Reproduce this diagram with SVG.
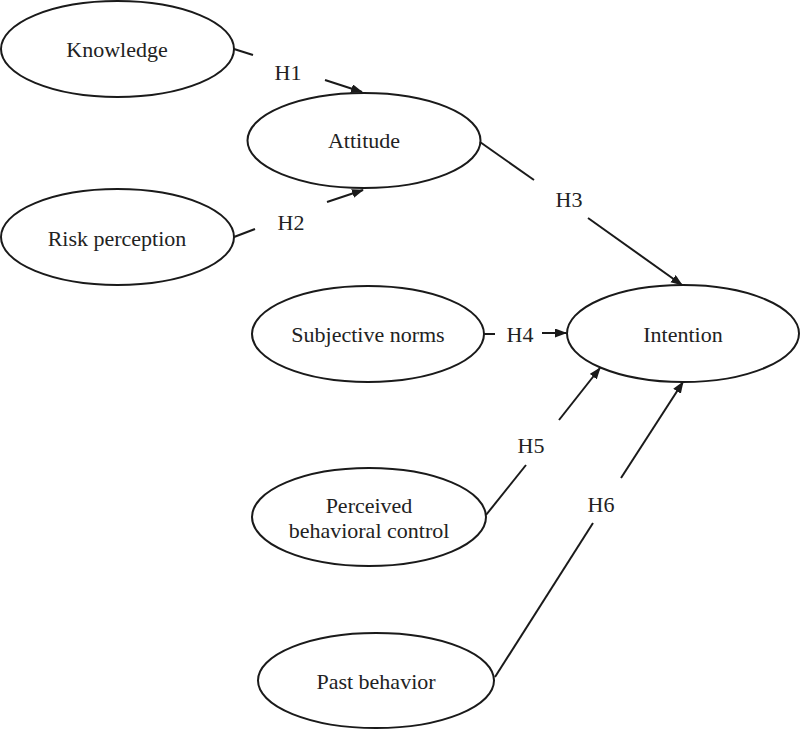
<svg xmlns="http://www.w3.org/2000/svg" width="800" height="730" viewBox="0 0 800 730">
<style>
.node ellipse{fill:#fff;stroke:#1a1a1a;stroke-width:2}
text{font-family:"Liberation Serif","Times New Roman",serif;font-size:22px;fill:#222;text-anchor:middle}
.conn line{stroke:#1a1a1a;stroke-width:2}
</style>
<defs>
<marker id="ah" markerUnits="userSpaceOnUse" markerWidth="12" markerHeight="10" refX="11" refY="4.5" orient="auto">
<path d="M0,0 L12,4.5 L0,9 z" fill="#1a1a1a"/>
</marker>
</defs>
<rect width="800" height="730" fill="#fff"/>
<g id="knowledge" class="node"><ellipse cx="117.5" cy="49" rx="116.5" ry="48"/><text x="117" y="57">Knowledge</text></g>
<g id="attitude" class="node"><ellipse cx="364" cy="140.5" rx="116.5" ry="47.5"/><text x="364" y="148">Attitude</text></g>
<g id="risk" class="node"><ellipse cx="117.5" cy="237" rx="116.5" ry="48"/><text x="117" y="246">Risk perception</text></g>
<g id="norms" class="node"><ellipse cx="368" cy="334" rx="116" ry="48"/><text x="368" y="342">Subjective norms</text></g>
<g id="intention" class="node"><ellipse cx="683" cy="333.5" rx="116" ry="48.5"/><text x="683" y="342">Intention</text></g>
<g id="pbc" class="node"><ellipse cx="369" cy="517" rx="117" ry="49"/><text x="369" y="513">Perceived</text><text x="369" y="538">behavioral control</text></g>
<g id="past" class="node"><ellipse cx="376" cy="680.5" rx="118" ry="47.5"/><text x="376" y="689">Past behavior</text></g>
<g id="connectors" class="conn">
<line x1="234" y1="49" x2="253" y2="55"/>
<line x1="325" y1="80" x2="362" y2="92" marker-end="url(#ah)"/>
<text x="288" y="80">H1</text>
<line x1="234" y1="237" x2="255" y2="229"/>
<line x1="327" y1="202" x2="363" y2="190" marker-end="url(#ah)"/>
<text x="291" y="230">H2</text>
<line x1="480" y1="142" x2="534" y2="180"/>
<line x1="588" y1="218" x2="682" y2="285" marker-end="url(#ah)"/>
<text x="569" y="207">H3</text>
<line x1="484" y1="334" x2="495" y2="334"/>
<line x1="542" y1="333" x2="566" y2="333" marker-end="url(#ah)"/>
<text x="520" y="342">H4</text>
<line x1="486" y1="515" x2="526" y2="465"/>
<line x1="559" y1="420" x2="600" y2="368" marker-end="url(#ah)"/>
<text x="531" y="453">H5</text>
<line x1="495" y1="677" x2="593" y2="523"/>
<line x1="621" y1="478" x2="683" y2="382" marker-end="url(#ah)"/>
<text x="601" y="512">H6</text>
</g>
</svg>
